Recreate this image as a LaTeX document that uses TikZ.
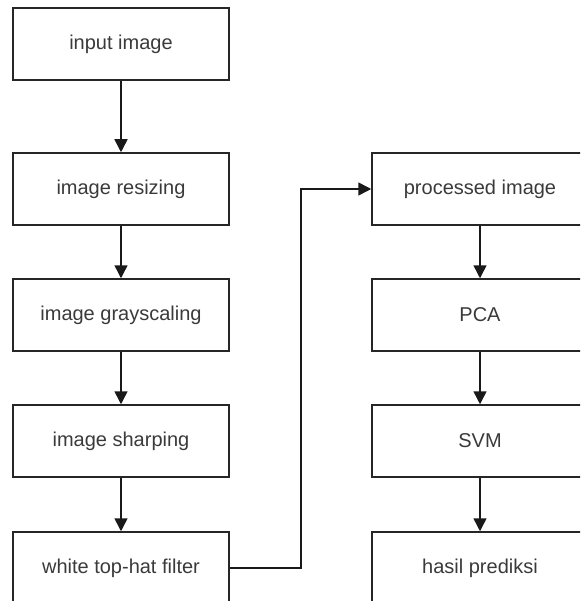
\documentclass[tikz,border=0pt]{standalone}
\usepackage{fontspec}
\setmainfont{Liberation Sans}
\usetikzlibrary{arrows.meta}
\definecolor{teks}{HTML}{3A3A3A}
\tikzset{
  blok/.style={draw=black!85, line width=1.5pt, minimum width=216pt, minimum height=72pt,
    inner sep=0pt, text=teks, font=\fontsize{20}{22}\selectfont},
  panah/.style={draw=black!90, line width=1.5pt, -{Triangle[length=13pt,width=13pt]}}
}
\begin{document}
\begin{tikzpicture}[x=1pt,y=-1pt]
\useasboundingbox (0,0) rectangle (580,601);
\clip (0,0) rectangle (580,601);
% kolom kiri
\node[blok] (input) at (121,44) {input image};
\node[blok] (resize) at (121,189) {image resizing};
\node[blok] (gray) at (121,315) {image grayscaling};
\node[blok] (sharp) at (121,441) {image sharping};
\node[blok] (tophat) at (121,568) {white top-hat filter};
% kolom kanan
\node[blok] (proses) at (480,189) {processed image};
\node[blok] (pca) at (480,315) {PCA};
\node[blok] (svm) at (480,441) {SVM};
\node[blok] (hasil) at (480,568) {hasil prediksi};
\coordinate (belok) at (301,568);
% panah
\draw[panah] (input) -- (resize);
\draw[panah] (resize) -- (gray);
\draw[panah] (gray) -- (sharp);
\draw[panah] (sharp) -- (tophat);
\draw[panah] (tophat) -- (belok) |- (proses);
\draw[panah] (proses) -- (pca);
\draw[panah] (pca) -- (svm);
\draw[panah] (svm) -- (hasil);
\end{tikzpicture}
\end{document}
